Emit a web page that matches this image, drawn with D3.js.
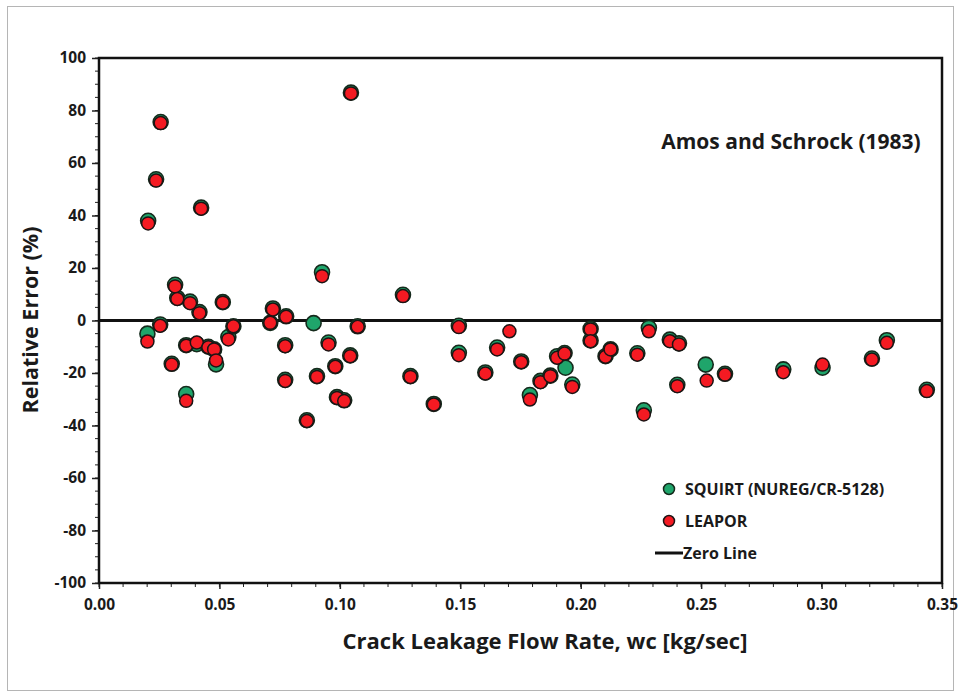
<!DOCTYPE html>
<html lang="en">
<head>
  <meta charset="UTF-8">
  <title>Amos and Schrock (1983)</title>
</head>
<body>
<style>
  * {
    padding: 0;
    margin: 0;
  }

  body {
    background: #fff;
  }

  #app {
    width: 960px;
    height: 698px;
  }

  #app svg text {
    font-family: "Open Sans", "Noto Sans", sans-serif;
    font-weight: bold;
    fill: #1a1a1a;
  }
</style>

<div id="app"></div>

<script src="https://cdn.jsdelivr.net/npm/d3@7/dist/d3.min.js"></script>
<script>
  // flow rate wc [kg/sec]
  var flowRate = [
    0.0204, 0.0201, 0.0237, 0.0256, 0.0254, 0.0302, 0.0316, 0.0325, 0.0362, 0.0362,
    0.0378, 0.0406, 0.0417, 0.0424, 0.0454, 0.0478, 0.0486, 0.0514, 0.0537, 0.0558,
    0.0711, 0.0722, 0.0777, 0.0773, 0.0773, 0.0863, 0.0891, 0.0905, 0.0926, 0.0953,
    0.0981, 0.0988, 0.1018, 0.1043, 0.1046, 0.1074, 0.1262, 0.1293, 0.1390, 0.1494,
    0.1494, 0.1604, 0.1653, 0.1704, 0.1753, 0.1789, 0.1833, 0.1874, 0.1902, 0.1933,
    0.1937, 0.1965, 0.2041, 0.2041, 0.2103, 0.2124, 0.2235, 0.2262, 0.2283, 0.2370,
    0.2408, 0.2401, 0.2519, 0.2523, 0.2599, 0.2841, 0.3004, 0.3209, 0.3271, 0.3437
  ];
  // relative error (%) - SQUIRT (NUREG/CR-5128)
  var squirtError = [
    38, -5, 53.8, 75.6, -1.5, -16.5, 13.6, 8.6, -28, -9.4,
    7.2, -9, 3.2, 43, -10, -11, -16.7, 7, -6.3, -2.2,
    -0.9, 4.6, 1.6, -9.4, -22.6, -38, -1, -21.2, 18.4, -8.4,
    -17.4, -29.2, -30.4, -13.3, 86.8, -2.2, 9.8, -21.2, -31.8, -2,
    -12.3, -19.8, -10.3, null, -15.6, -28.4, -23, -21, -13.6, -12.4,
    -18, -24.4, -3.2, -7.6, -13.6, -11, -12.5, -34.2, -2.8, -7.3,
    -8.7, -24.5, -16.8, null, -20.3, -18.6, -18, -14.5, -7.5, -26.4
  ];
  // relative error (%) - LEAPOR
  var leaporError = [
    37, -8, 53.3, 75.2, -2, -16.8, 13, 8.2, -30.6, -9.6,
    6.6, -8.4, 2.8, 42.6, -10.2, -11, -15.2, 6.8, -7.2, -2.2,
    -0.9, 4.2, 1.4, -9.8, -23, -38.3, null, -21.5, 16.9, -9.1,
    -17.6, -29.5, -30.7, -13.6, 86.5, -2.4, 9.3, -21.5, -32, -2.5,
    -13.2, -20.2, -11, -4.1, -15.9, -30.1, -23.5, -21.2, -14.2, -12.6,
    null, -25.3, -3.4, -7.9, -13.8, -11, -13, -35.8, -4.1, -7.9,
    -9.1, -25, null, -22.9, -20.6, -19.7, -16.8, -14.9, -8.5, -26.9
  ];
  var xTicks = [0, 0.05, 0.10, 0.15, 0.20, 0.25, 0.30, 0.35];
  var yTicks = [100, 80, 60, 40, 20, 0, -20, -40, -60, -80, -100];

  function drawChart() {
    var svg = d3.select('#app').append('svg')
      .attr('width', 960).attr('height', 698)
      .attr('viewBox', '0,0 960 698');

    var left = 99, right = 942, top = 58, bottom = 583;

    var x = d3.scaleLinear().domain([0, 0.35]).range([left, right]);
    var y = d3.scaleLinear().domain([-100, 100]).range([bottom, top]);

    // outer gray frame
    svg.append('rect')
      .attr('x', 7.5).attr('y', 6.5).attr('width', 946).attr('height', 684)
      .attr('fill', 'none').attr('stroke', '#b5b5b5').attr('stroke-width', 1);

    // minor ticks
    var g = svg.append('g');
    g.selectAll('.xminor').data(d3.range(0, 36).map(d => d / 100))
      .enter().append('line')
      .attr('x1', d => x(d)).attr('x2', d => x(d))
      .attr('y1', bottom).attr('y2', bottom + 4)
      .attr('stroke', '#222').attr('stroke-width', 1);
    g.selectAll('.yminor').data(d3.range(-100, 101, 5))
      .enter().append('line')
      .attr('x1', left - 4).attr('x2', left)
      .attr('y1', d => y(d)).attr('y2', d => y(d))
      .attr('stroke', '#222').attr('stroke-width', 1);

    // axes (plain hyphen for negatives, like the original)
    var xAxis = svg.append('g')
      .attr('transform', 'translate(0,' + bottom + ')')
      .call(d3.axisBottom(x).tickValues(xTicks).tickFormat(d => d.toFixed(2)).tickSize(6).tickPadding(7));
    var yAxis = svg.append('g')
      .attr('transform', 'translate(' + left + ',0)')
      .call(d3.axisLeft(y).tickValues(yTicks).tickFormat(d => String(d)).tickSize(7).tickPadding(6));

    [xAxis, yAxis].forEach(function (a) {
      a.select('.domain').remove();
      a.selectAll('line').attr('stroke', '#222').attr('stroke-width', 1.5);
      a.selectAll('text').attr('font-size', 15.5).attr('fill', '#1a1a1a');
    });
    xAxis.selectAll('text').attr('dy', '0.9em');

    // plot frame
    svg.append('rect')
      .attr('x', left).attr('y', top).attr('width', right - left).attr('height', bottom - top)
      .attr('fill', 'none').attr('stroke', '#111').attr('stroke-width', 2.5);

    // zero line
    svg.append('line')
      .attr('x1', left).attr('x2', right).attr('y1', y(0)).attr('y2', y(0))
      .attr('stroke', '#111').attr('stroke-width', 3);

    // points: SQUIRT below, LEAPOR on top
    var rows = flowRate.map((w, i) => ({ w: w, s: squirtError[i], l: leaporError[i] }));

    svg.append('g').selectAll('circle')
      .data(rows.filter(d => d.s !== null))
      .enter().append('circle')
      .attr('cx', d => x(d.w)).attr('cy', d => y(d.s)).attr('r', 7.5)
      .attr('fill', '#1fa56b').attr('stroke', '#152a1c').attr('stroke-width', 1.6);

    svg.append('g').selectAll('circle')
      .data(rows.filter(d => d.l !== null))
      .enter().append('circle')
      .attr('cx', d => x(d.w)).attr('cy', d => y(d.l)).attr('r', 6.5)
      .attr('fill', '#f41a22').attr('stroke', '#1c1414').attr('stroke-width', 1.5);

    // study label
    svg.append('text')
      .attr('x', 791).attr('y', 149).attr('text-anchor', 'middle')
      .attr('font-size', 21)
      .text('Amos and Schrock (1983)');

    // legend
    var legend = svg.append('g').attr('transform', 'translate(669,0)');
    legend.append('circle').attr('cx', 0).attr('cy', 489).attr('r', 5.5)
      .attr('fill', '#1fa56b').attr('stroke', '#152a1c').attr('stroke-width', 1.5);
    legend.append('text').attr('x', 16).attr('y', 495).attr('font-size', 16)
      .text('SQUIRT (NUREG/CR-5128)');
    legend.append('circle').attr('cx', 0).attr('cy', 521).attr('r', 5.5)
      .attr('fill', '#f41a22').attr('stroke', '#1c1414').attr('stroke-width', 1.5);
    legend.append('text').attr('x', 16).attr('y', 527).attr('font-size', 16)
      .text('LEAPOR');
    legend.append('line').attr('x1', -14).attr('x2', 14).attr('y1', 553).attr('y2', 553)
      .attr('stroke', '#111').attr('stroke-width', 3);
    legend.append('text').attr('x', 14).attr('y', 559).attr('font-size', 16)
      .text('Zero Line');

    // axis titles
    svg.append('text')
      .attr('x', 545).attr('y', 649).attr('text-anchor', 'middle')
      .attr('font-size', 22)
      .text('Crack Leakage Flow Rate, wc [kg/sec]');
    svg.append('text')
      .attr('transform', 'translate(38,320) rotate(-90)').attr('text-anchor', 'middle')
      .attr('font-size', 21.5)
      .text('Relative Error (%)');
  }

  drawChart();
</script>

</body>
</html>
